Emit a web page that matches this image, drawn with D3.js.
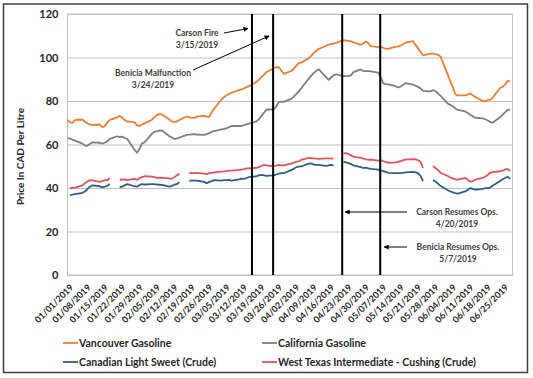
<!DOCTYPE html>
<html><head><meta charset="utf-8">
<script src="https://cdn.jsdelivr.net/npm/d3@7"></script>
<style>
body{margin:0;background:#fff}
svg{display:block}
text{font-family:Lato,"Noto Sans",sans-serif;font-weight:bold}
</style>
</head><body>
<svg id="chart" width="533" height="378"></svg>
<script>
// ---------- DATA ----------
// Trading days (weekdays incl. US holidays), Jan 1 2019 – Jun 28 2019
const firstDay = "2019-01-01";
const lastDay = "2019-06-28";

const seriesNames = ["Vancouver Gasoline", "California Gasoline", "Canadian Light Sweet (Crude)", "West Texas Intermediate - Cushing (Crude)"];
const seriesColors = ["#ED7D31", "#7F7F7F", "#2F5D8C", "#E8505E"];

const vancouverGasoline = [
  71.3,70.2,70.0,71.2,
  71.5,70.5,69.8,69.2,69.0,
  69.2,68.0,68.5,70.2,71.3,
  72.5,73.1,72.4,71.2,70.6,
  70.2,68.8,68.5,69.2,69.7,
  71.4,72.6,73.6,74.0,73.8,
  71.5,70.5,70.4,70.6,71.3,
  72.9,72.5,72.2,72.2,72.8,
  73.2,72.8,72.7,74.8,76.5,
  80.8,81.8,82.6,83.3,83.8,
  85.0,85.3,85.8,86.4,86.8,
  88.8,89.8,91.0,92.0,93.2,
  95.2,95.5,95.6,94.0,92.5,
  93.8,94.8,96.2,97.4,97.6,
  99.6,100.8,102.0,103.0,103.9,
  105.4,105.9,106.1,106.4,106.7,
  108.0,107.8,107.6,107.4,107.0,
  105.8,106.6,107.3,106.6,105.2,
  104.8,105.0,104.5,104.0,104.0,
  105.0,105.0,105.5,106.2,106.8,
  107.5,105.8,104.2,102.5,101.0,
  101.8,101.8,101.6,101.2,100.5,
  92.0,89.0,86.4,83.0,82.6,
  82.6,83.0,83.5,82.6,81.9,
  80.0,79.8,80.5,80.5,81.5,
  86.0,86.5,87.5,89.3,89.0
];

const californiaGasoline = [
  62.8,62.8,62.2,61.8,
  60.4,59.6,59.4,60.2,61.0,
  60.8,60.4,60.8,61.5,62.6,
  63.8,63.4,63.6,63.0,62.6,
  57.5,56.2,58.0,60.5,61.0,
  65.0,65.9,66.0,66.5,66.4,
  63.8,63.2,62.5,62.8,63.2,
  64.4,64.5,64.7,64.8,64.6,
  64.4,64.8,65.2,65.9,66.1,
  67.0,67.2,67.5,68.0,68.5,
  68.6,68.5,68.9,69.3,69.6,
  70.6,71.6,73.2,74.5,76.0,
  76.2,77.5,79.5,79.7,79.6,
  81.0,82.0,83.2,84.4,85.8,
  90.2,91.6,92.8,93.8,94.6,
  91.0,89.7,90.8,91.8,92.3,
  91.4,91.4,91.5,91.8,93.3,
  94.5,93.8,93.7,93.7,93.6,
  93.0,91.0,88.1,87.8,87.6,
  86.8,86.2,86.6,87.5,88.2,
  87.5,87.0,86.5,85.8,84.7,
  84.4,85.0,84.6,83.5,82.5,
  78.8,78.2,77.6,76.6,75.9,
  75.2,74.5,73.7,73.0,72.3,
  72.0,71.6,71.0,70.4,70.0,
  72.5,73.6,74.8,75.9,76.0
];

const canadianLightSweet = [
  null,36.6,37.0,37.2,
  37.8,38.4,39.5,40.6,41.2,
  40.8,40.3,40.6,41.0,41.8,
  null,40.4,40.6,41.2,41.8,
  40.8,40.6,41.4,41.8,41.6,
  41.8,41.8,41.6,41.5,41.4,
  40.6,41.0,41.5,41.8,42.6,
  null,43.2,43.5,43.4,43.4,
  42.8,42.2,42.8,43.2,43.6,
  43.4,43.6,43.6,43.7,43.4,
  44.0,44.3,44.2,44.6,45.0,
  45.4,45.8,46.0,45.8,45.6,
  45.8,46.2,46.6,46.8,46.8,
  48.2,48.8,49.6,49.8,49.9,
  51.2,51.3,50.8,50.6,50.6,
  50.2,50.4,50.6,50.4,null,
  52.1,51.8,51.4,51.0,50.4,
  49.6,49.2,49.4,49.0,48.8,
  48.4,48.0,47.8,47.4,47.0,
  46.8,46.8,46.8,47.0,47.2,
  47.4,47.2,46.8,45.6,43.2,
  null,43.6,43.0,42.0,41.0,
  39.0,38.4,38.0,37.6,37.4,
  38.4,39.2,39.9,39.6,39.2,
  39.6,39.9,40.0,40.2,41.0,
  43.2,44.0,44.6,45.2,44.2
];

const wtiCushing = [
  null,39.8,40.0,40.2,
  41.2,42.2,43.0,43.6,43.5,
  42.8,43.2,43.6,43.6,44.5,
  null,43.9,43.8,44.0,43.6,
  44.2,43.8,44.6,45.0,45.4,
  45.2,45.0,44.6,44.8,44.7,
  44.4,44.2,45.0,45.8,46.5,
  null,46.8,47.0,46.8,47.0,
  46.6,46.4,46.8,47.0,47.2,
  47.5,47.6,47.8,48.0,48.0,
  48.3,48.5,48.7,49.0,49.0,
  49.3,49.6,50.2,50.6,50.4,
  50.0,50.3,50.6,50.4,50.4,
  51.2,51.6,52.0,52.3,52.9,
  53.8,53.7,53.6,53.5,53.4,
  53.6,53.6,53.5,53.6,null,
  55.8,56.0,55.6,55.0,54.4,
  53.8,53.5,53.2,53.0,53.0,
  52.6,52.8,52.3,52.0,51.6,
  51.8,52.1,52.3,52.8,53.0,
  53.3,53.2,52.8,52.1,49.2,
  null,50.1,49.2,48.3,47.0,
  45.5,44.8,44.4,44.0,43.8,
  44.6,43.8,42.9,43.2,43.8,
  44.6,45.2,46.0,47.0,47.3,
  47.7,48.0,48.5,48.8,47.8
];

const yTickValues = [0, 20, 40, 60, 80, 100, 120];
const xTickLabels = ["01/01/2019","01/08/2019","01/15/2019","01/22/2019","01/29/2019","02/05/2019","02/12/2019","02/19/2019","02/26/2019","03/05/2019","03/12/2019","03/19/2019","03/26/2019","04/02/2019","04/09/2019","04/16/2019","04/23/2019","04/30/2019","05/07/2019","05/14/2019","05/21/2019","05/28/2019","06/04/2019","06/11/2019","06/18/2019","06/25/2019"];

// Event marker lines (positions as drawn in the picture)
const eventLineDates = ["2019-03-16T05:00","2019-03-24T17:00","2019-04-21T12:00","2019-05-06T19:00"];
const eventNames = ["Carson Fire","Benicia Malfunction","Carson Resumes Ops.","Benicia Resumes Ops."];
const eventLabelDates = ["3/15/2019","3/24/2019","4/20/2019","5/7/2019"];

const yTitle = "Price In CAD Per Litre";

// ---------- CHART ----------
const svg = d3.select("#chart");
const W = 533, H = 378;
const plot = {left: 67.5, right: 512.5, top: 14, bottom: 275};

const parseISO = d3.isoParse;
const parseTick = d3.timeParse("%m/%d/%Y");
const dates = d3.timeDay.range(parseISO(firstDay), d3.timeDay.offset(parseISO(lastDay), 1))
  .filter(d => d.getDay() !== 0 && d.getDay() !== 6);

const x = d3.scaleTime()
  .domain([parseISO(firstDay), d3.timeDay.offset(parseISO(lastDay), 1)])
  .range([plot.left, plot.right]);
const y = d3.scaleLinear().domain([0, 120]).range([plot.bottom, plot.top]);

// outer frame
svg.append("rect").attr("x", 3.5).attr("y", 4).attr("width", 524).attr("height", 368.5)
  .attr("fill", "#fff").attr("stroke", "#404040").attr("stroke-width", 1.5);

// grid
const grid = svg.append("g").attr("transform", `translate(${plot.left},0)`)
  .call(d3.axisLeft(y).tickValues(yTickValues).tickSize(-(plot.right - plot.left)).tickFormat(""));
grid.select(".domain").remove();
grid.selectAll("line").attr("stroke", "#BFBFBF").attr("stroke-width", 1);

// plot border
svg.append("rect").attr("x", plot.left).attr("y", plot.top)
  .attr("width", plot.right - plot.left).attr("height", plot.bottom - plot.top)
  .attr("fill", "none").attr("stroke", "#BFBFBF").attr("stroke-width", 1);

// y axis labels
const yAxis = svg.append("g").attr("transform", `translate(${plot.left},0)`)
  .call(d3.axisLeft(y).tickValues(yTickValues).tickSize(0).tickPadding(9));
yAxis.select(".domain").remove();
yAxis.selectAll("text").attr("font-size", 11).attr("fill", "#262626")
  .style("font-family", "Lato, sans-serif").style("font-weight", "bold");

// y title
svg.append("text").attr("transform", `translate(24,${(plot.top + plot.bottom) / 2 + 12}) rotate(-90)`)
  .attr("text-anchor", "middle").attr("font-size", 10).attr("fill", "#262626").text(yTitle);

// x axis labels
const xAxis = svg.append("g").attr("transform", `translate(0,${plot.bottom})`)
  .call(d3.axisBottom(x).tickValues(xTickLabels.map(parseTick)).tickSize(0)
    .tickFormat(d3.timeFormat("%m/%d/%Y")));
xAxis.select(".domain").remove();
xAxis.selectAll("text")
  .attr("y", 0).attr("dy", 0)
  .attr("text-anchor", "end")
  .attr("transform", "translate(6,13) rotate(-45)")
  .attr("font-size", 9).attr("fill", "#262626")
  .style("font-family", "Lato, sans-serif").style("font-weight", "bold");

// series lines
const seriesValues = [vancouverGasoline, californiaGasoline, canadianLightSweet, wtiCushing];
const line = d3.line().defined(d => d.v !== null).x(d => x(d.date)).y(d => y(d.v));
const drawOrder = [3, 2, 1, 0];
drawOrder.forEach(i => {
  const data = dates.map((d, k) => ({date: d, v: seriesValues[i][k] === undefined ? null : seriesValues[i][k]}));
  svg.append("path").datum(data).attr("d", line)
    .attr("fill", "none").attr("stroke", seriesColors[i]).attr("stroke-width", 1.8)
    .attr("stroke-linejoin", "round");
});

// event vertical lines
svg.selectAll(".evline").data(eventLineDates).enter().append("line")
  .attr("x1", d => x(parseISO(d))).attr("x2", d => x(parseISO(d)))
  .attr("y1", plot.top).attr("y2", plot.bottom)
  .attr("stroke", "#000").attr("stroke-width", 2);

// arrow marker
const defs = svg.append("defs");
defs.append("marker").attr("id", "arr").attr("viewBox", "0 0 10 10").attr("refX", 9).attr("refY", 5)
  .attr("markerWidth", 5).attr("markerHeight", 5).attr("orient", "auto")
  .append("path").attr("d", "M0,0 L10,5 L0,10 z").attr("fill", "#000");

// annotations
const ann = [
  {t: [eventNames[0], eventLabelDates[0]], tx: 197, ty: 33, a: [224, 33, x(parseISO(eventLineDates[0])) - 4, 28.5]},
  {t: [eventNames[1], eventLabelDates[1]], tx: 153, ty: 73, a: [193, 70, x(parseISO(eventLineDates[1])) - 4, 36]},
  {t: [eventNames[2], eventLabelDates[2]], tx: 457, ty: 212, a: [407, 212, x(parseISO(eventLineDates[2])) + 3, 212]},
  {t: [eventNames[3], eventLabelDates[3]], tx: 458, ty: 247, a: [407, 247, x(parseISO(eventLineDates[3])) + 4, 247]}
];
ann.forEach(o => {
  const t = svg.append("text").attr("text-anchor", "middle").attr("font-size", 8.5).attr("fill", "#404040");
  o.t.forEach((s, i) => t.append("tspan").attr("x", o.tx).attr("y", o.ty + 3 + i * 11.5).text(s));
  svg.append("line").attr("x1", o.a[0]).attr("y1", o.a[1]).attr("x2", o.a[2]).attr("y2", o.a[3])
    .attr("stroke", "#000").attr("stroke-width", 1).attr("marker-end", "url(#arr)");
});

// legend
const legendPos = [[63, 343], [262, 343], [63, 362], [262, 362]];
seriesNames.forEach((n, i) => {
  const [lx, ly] = legendPos[i];
  svg.append("line").attr("x1", lx).attr("x2", lx + 15).attr("y1", ly).attr("y2", ly)
    .attr("stroke", seriesColors[i]).attr("stroke-width", 1.8);
  svg.append("text").attr("x", lx + 16).attr("y", ly + 3.8).attr("font-size", 10.5)
    .attr("fill", "#262626").text(n);
});
</script>
</body></html>
